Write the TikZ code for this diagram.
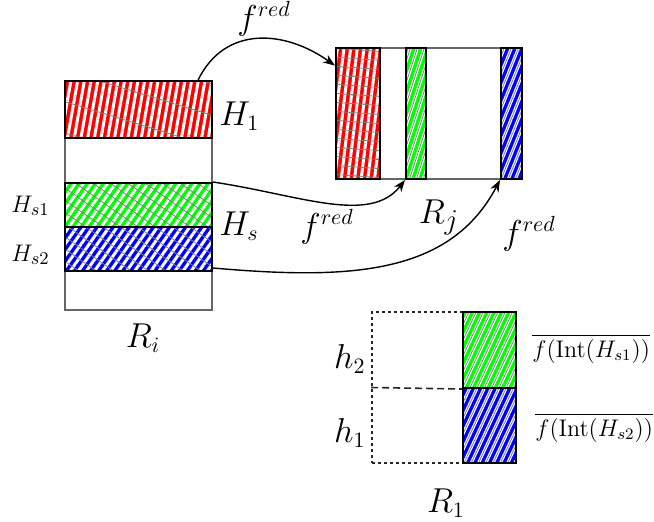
\documentclass[tikz,border=0pt]{standalone}
\usepackage{amsmath,amssymb}
\usepackage{tikz}
\usetikzlibrary{arrows.meta,positioning,calc,fit,patterns.meta}
\tikzset{
  outerbox/.style={draw=black!60,line width=0.7pt,inner sep=0pt},
  hatchbox/.style n args={4}{draw=black,line width=1pt,inner sep=0pt,
                  preaction={fill=#1},
                  preaction={pattern={Lines[angle=#2,distance=3.3pt,line width=1.5pt]},pattern color=white},
                  preaction={pattern={Lines[angle=#3,distance=#4,line width=0.4pt]},pattern color=black!50}},
  dotbox/.style={draw=black!85,line width=0.8pt,inner sep=0pt,
                 dash pattern=on 1.5pt off 1.5pt},
  midline/.style={draw=black!85,line width=0.8pt,dash pattern=on 3.5pt off 2pt},
  biglbl/.style={inner sep=0pt,font=\fontsize{16}{19}\selectfont},
  sublbl/.style={inner sep=0pt,font=\fontsize{12.5}{15}\selectfont},
  smalllbl/.style={inner sep=0pt,font=\fontsize{11.6}{14}\selectfont},
  mapping/.style={-{Stealth[length=6pt,width=4.5pt]},line width=0.7pt}
}

\begin{document}
\begin{tikzpicture}[x=0.5pt,y=-0.5pt]
  \useasboundingbox (0,0) rectangle (654,521);

  % R_i and its pieces
  \node[outerbox,fit={(65,81) (212,310)}] (Ri) {};
  \node[hatchbox={red}{80}{-17}{15pt},fit={(65,81) (212,138)}] (H1) {};
  \node[hatchbox={green}{55}{-35}{5pt},fit={(65,183) (212,227)}] (Hs1) {};
  \node[hatchbox={blue}{55}{-35}{5pt},fit={(65,227) (212,271)}] (Hs2) {};

  \node[biglbl,anchor=base west] (lH1) at (219,125) {$H_1$};
  \node[biglbl,anchor=base west] (lHs) at (219,235) {$H_s$};
  \node[sublbl,anchor=base west] (lHs1) at (11,212) {$H_{s1}$};
  \node[sublbl,anchor=base west] (lHs2) at (11,261) {$H_{s2}$};
  \node[biglbl,anchor=base] (lRi) at (143,347) {$R_i$};

  % R_j
  \node[outerbox,fit={(336,48) (522,179)}] (Rj) {};
  \node[hatchbox={red}{83}{-4}{4.5pt},fit={(336,48) (380,179)}] (Rjr) {};
  \node[hatchbox={green}{72}{72}{3.3pt},fit={(406,48) (426,179)}] (Rjg) {};
  \node[hatchbox={blue}{68}{68}{3.3pt},fit={(501,48) (522,179)}] (Rjb) {};
  \node[font=\fontsize{19}{22}\selectfont,inner sep=0pt,anchor=base] (lRj) at (439,223) {$R_j$};

  % maps
  \draw[mapping] ($(H1.north west)!0.9!(H1.north east)$)
    .. controls (225,25) and (285,30) .. ($(Rjr.north west)!0.14!(Rjr.south west)$);
  \draw[mapping] (Hs1.north east)
    .. controls (300,195) and (370,225) .. (Rjg.south west);
  \draw[mapping] ($(Hs2.south east)+(0,-4)$)
    .. controls (350,280) and (450,275) .. (Rjb.south west);
  \node[biglbl,anchor=base west] (f1) at (237,29) {$f^{red}$};
  \node[biglbl,anchor=base west] (f2) at (300,237) {$f^{red}$};
  \node[biglbl,anchor=base west] (f3) at (502,244) {$f^{red}$};

  % R_1
  \node[dotbox,fit={(372,312) (516,463)}] (R1) {};
  \node[hatchbox={green}{65}{65}{3.3pt},fit={(463,312) (516,388)}] (R1g) {};
  \node[hatchbox={blue}{65}{65}{3.3pt},fit={(463,388) (516,463)}] (R1b) {};
  \draw[midline] (R1.west) -- (R1g.south west);
  \node[biglbl,anchor=base east] (lh2) at (366,368) {$h_2$};
  \node[biglbl,anchor=base east] (lh1) at (366,442) {$h_1$};
  \node[biglbl,anchor=base] (lR1) at (446,512) {$R_1$};
  \node[smalllbl,anchor=base west] (img1) at (532,357) {$\overline{f(\mathrm{Int}(H_{s1}))}$};
  \node[smalllbl,anchor=base west] (img2) at (535,436) {$\overline{f(\mathrm{Int}(H_{s2}))}$};
\end{tikzpicture}
\end{document}
